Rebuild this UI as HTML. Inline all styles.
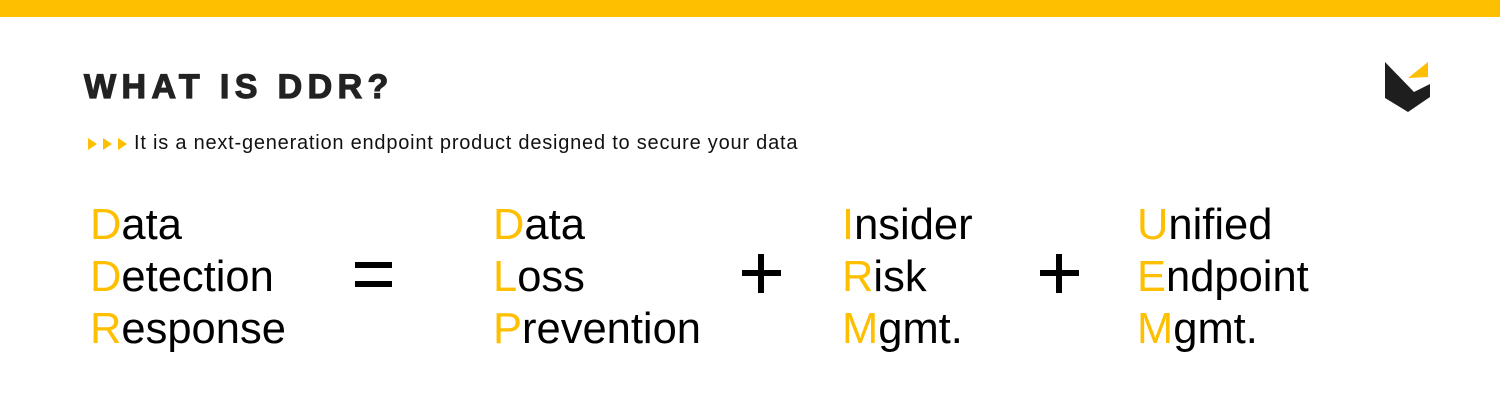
<!DOCTYPE html>
<html><head><style>
body{margin:0;width:1500px;height:401px;background:#fff;position:relative;overflow:hidden;font-family:"Liberation Sans",Arial,sans-serif;color:#111}
.bar{position:absolute;left:0;top:0;width:1500px;height:17px;background:#fdbf00}
.title{position:absolute;left:84px;top:68px;font-size:34px;font-weight:bold;letter-spacing:5.4px;color:#222;-webkit-text-stroke:1.2px #222}
.sub{position:absolute;left:134px;top:132px;font-size:20px;color:#111;letter-spacing:0.78px}
.arr{position:absolute;left:88px;top:137px}
.col{position:absolute;top:199px;font-size:43.5px;line-height:52px;color:#000}
.col span{color:#fdbf00}
.r{position:absolute;background:#000}
</style></head><body>
<div class="bar"></div>
<div class="title">WHAT IS DDR?</div>
<svg class="arr" width="40" height="14"><polygon points="0,1 9,7 0,13" fill="#fdbf00"/><polygon points="15,1 24,7 15,13" fill="#fdbf00"/><polygon points="30,1 39,7 30,13" fill="#fdbf00"/></svg>
<div class="sub">It is a next-generation endpoint product designed to secure your data</div>
<div class="col" style="left:90px"><span>D</span>ata<br><span>D</span>etection<br><span>R</span>esponse</div>
<div class="r" style="left:355px;top:262px;width:37px;height:6px"></div>
<div class="r" style="left:355px;top:281px;width:37px;height:6px"></div>
<div class="col" style="left:493px"><span>D</span>ata<br><span>L</span>oss<br><span>P</span>revention</div>
<div class="r" style="left:742px;top:270px;width:39px;height:6px"></div>
<div class="r" style="left:758px;top:254px;width:6px;height:39px"></div>
<div class="col" style="left:842px"><span>I</span>nsider<br><span>R</span>isk<br><span>M</span>gmt.</div>
<div class="r" style="left:1040px;top:270px;width:39px;height:6px"></div>
<div class="r" style="left:1056px;top:254px;width:6px;height:39px"></div>
<div class="col" style="left:1137px"><span>U</span>nified<br><span>E</span>ndpoint<br><span>M</span>gmt.</div>
<svg style="position:absolute;left:1370px;top:50px" width="80" height="70">
<polygon points="15,12 44,42 60,34 60,47 38,62 15,48" fill="#1e1e1e"/>
<polygon points="38,28 58,12 58,27" fill="#fdbf00"/>
</svg>
</body></html>
